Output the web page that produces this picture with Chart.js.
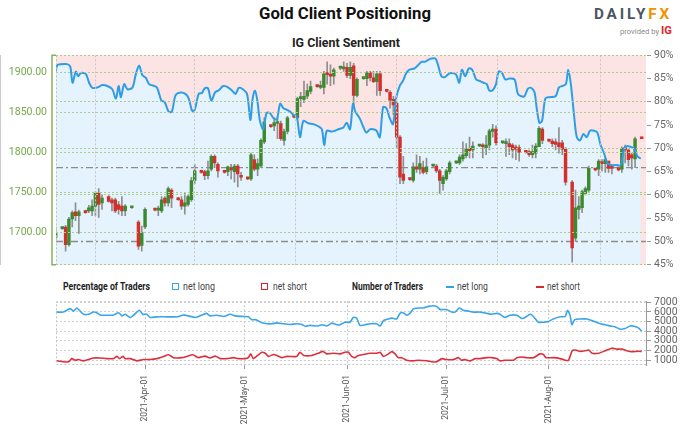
<!DOCTYPE html>
<html>
<head>
<meta charset="utf-8">
<script src="https://cdn.jsdelivr.net/npm/chart.js@4.4.0/dist/chart.umd.min.js"></script>
<style>
  body { margin: 0; width: 680px; height: 424px; background: #fff; position: relative; overflow: hidden;
         font-family: Roboto, 'Liberation Sans', sans-serif; }
  canvas { position: absolute; left: 0; }
  #main { top: 40px; }
  #traders { top: 292px; }
  .t { position: absolute; white-space: nowrap; line-height: 1; transform-origin: 0 0; }
  .box { position: absolute; width: 5px; height: 5px; border-width: 1.6px; border-style: solid; }
  .dash { position: absolute; width: 8px; height: 2px; }
</style>
</head>
<body>
<div class="t" data-w="172" style="left:259px;top:5px;font-weight:bold;font-size:17px;color:#111">Gold Client Positioning</div>
<div class="t" data-w="78" style="left:594px;top:7px;font-weight:bold;font-size:14px;letter-spacing:2.6px;color:#4b5563">DAILY<span style="color:#f39200">FX</span></div>
<div class="t" data-w="52" style="left:620px;top:25px;font-size:7.5px;color:#8a8a8a">provided by <span style="color:#e01f26;font-weight:bold;font-size:11px">IG</span></div>
<div class="t" data-w="108" style="left:292px;top:36px;font-weight:bold;font-size:13px;color:#222">IG Client Sentiment</div>

<div class="t" data-w="87" style="left:63px;top:282px;font-weight:bold;font-size:10px;color:#222">Percentage of Traders</div>
<div class="box" style="left:172px;top:283px;border-color:#33a3e8"></div>
<div class="t" data-w="32" style="left:183px;top:282px;font-size:10px;color:#444">net long</div>
<div class="box" style="left:261px;top:283px;border-color:#d9262e"></div>
<div class="t" data-w="34" style="left:273px;top:282px;font-size:10px;color:#444">net short</div>
<div class="t" data-w="71" style="left:352px;top:282px;font-weight:bold;font-size:10px;color:#222">Number of Traders</div>
<div class="dash" style="left:446px;top:286px;background:#33a3e8"></div>
<div class="t" data-w="31" style="left:457px;top:282px;font-size:10px;color:#444">net long</div>
<div class="dash" style="left:536px;top:286px;background:#d9262e"></div>
<div class="t" data-w="33" style="left:547px;top:282px;font-size:10px;color:#444">net short</div>

<canvas id="main" width="680" height="240"></canvas>
<canvas id="traders" width="680" height="132"></canvas>

<script>
// squeeze the html labels to the narrow width of the original font
document.querySelectorAll(".t[data-w]").forEach(el => {
  const w = el.getBoundingClientRect().width;
  el.style.transform = "scaleX(" + (parseFloat(el.dataset.w) / w).toFixed(3) + ")";
});

// days counted from 2021-03-01 (= day 0)
const monthDays = [31, 61, 92, 122, 153];
const monthLabels = ["2021-Apr-01", "2021-May-01", "2021-Jun-01", "2021-Jul-01", "2021-Aug-01"];
const xMin = 4.1, xMax = 182.3;

const priceTicks = [1700, 1750, 1800, 1850, 1900];
const sentTicks = [45, 50, 55, 60, 65, 70, 75, 80, 85, 90];
const traderTicks = [1000, 2000, 3000, 4000, 5000, 6000, 7000];
const levelPrice = 1781;
const levelSent = 50;

// daily gold candles
const candleDays = [4,6,7,8,9,10,11,13,14,15,16,17,18,20,21,22,23,24,25,27,29,30,31,
  34,35,36,37,38,39,41,42,43,44,45,46,48,49,50,51,52,53,55,56,57,58,59,60,62,63,64,65,66,67,
  69,70,71,72,73,74,76,77,78,79,80,81,83,84,85,86,87,88,90,91,92,93,94,95,97,98,99,100,101,102,
  104,105,106,107,108,109,111,112,113,114,115,116,118,119,120,121,122,123,125,126,127,128,129,130,
  132,133,134,135,136,137,139,140,141,142,143,144,146,147,148,149,150,151,153,154,155,156,157,158,
  160,161,162,163,164,165,167,168,169,170,171,172,174,175,176,177,178,179,181];
const candleOpen = [1694,1705,1707,1685,1717,1726,1721,1727,1727,1727,1733,1749,1737,1745,1741,1741,1735,1733,1727,1731,1713,1684,1707,
  1729,1728,1727,1743,1737,1753,1743,1741,1733,1735,1741,1765,1777,1776,1771,1779,1795,1785,1777,1776,1781,1776,1783,1771,1768,1767,1791,1779,1783,1813,
  1833,1833,1836,1836,1815,1826,1845,1843,1867,1866,1870,1876,1883,1881,1881,1898,1897,1895,1905,1904,1906,1896,1908,1871,1892,1892,1899,1893,1888,1898,
  1877,1875,1866,1861,1819,1773,1767,1765,1782,1779,1781,1776,1783,1783,1777,1761,1767,1776,1787,1787,1792,1796,1805,1803,
  1808,1808,1806,1809,1826,1829,1812,1811,1811,1809,1806,1806,1801,1801,1797,1799,1807,1829,1815,1814,1813,1812,1812,1804,
  1763,1693,1729,1731,1749,1753,1779,1779,1787,1786,1789,1781,1781,1779,1806,1803,1797,1792,1819];
const candleHigh = [1707,1707,1709,1719,1727,1737,1728,1728,1734,1741,1751,1755,1747,1746,1743,1743,1739,1745,1735,1732,1715,1708,1731,
  1730,1733,1745,1745,1757,1755,1744,1745,1749,1747,1769,1785,1778,1778,1789,1797,1797,1787,1778,1783,1785,1785,1785,1775,1769,1799,1797,1792,1817,1843,
  1834,1843,1843,1839,1829,1845,1846,1869,1875,1889,1885,1889,1884,1889,1901,1913,1909,1905,1906,1913,1911,1913,1911,1893,1894,1901,1901,1901,1901,1901,
  1878,1877,1870,1863,1821,1795,1768,1787,1797,1795,1789,1793,1784,1785,1779,1771,1779,1789,1788,1797,1813,1811,1819,1813,
  1809,1811,1821,1829,1835,1833,1813,1817,1817,1811,1809,1809,1802,1803,1809,1811,1832,1831,1816,1817,1817,1831,1815,1806,
  1765,1753,1745,1753,1757,1783,1780,1791,1791,1793,1789,1785,1782,1807,1809,1805,1799,1819,1819];
const candleLow = [1689,1704,1677,1683,1707,1715,1699,1724,1725,1721,1721,1719,1729,1738,1727,1725,1723,1721,1721,1730,1679,1677,1705,
  1727,1721,1725,1733,1733,1731,1740,1729,1723,1733,1739,1761,1774,1766,1767,1777,1781,1769,1774,1771,1767,1763,1757,1765,1766,1765,1777,1771,1781,1811,
  1831,1827,1817,1815,1809,1823,1843,1841,1857,1862,1867,1873,1881,1879,1873,1885,1883,1885,1903,1901,1893,1892,1855,1869,1891,1883,1889,1887,1871,1871,
  1875,1855,1847,1805,1761,1761,1765,1763,1775,1773,1773,1773,1782,1775,1749,1753,1765,1773,1786,1785,1789,1793,1793,1793,
  1807,1793,1797,1803,1819,1809,1811,1795,1797,1793,1791,1789,1799,1795,1793,1793,1807,1811,1813,1807,1803,1799,1797,1759,
  1663,1689,1717,1725,1747,1751,1777,1771,1777,1775,1775,1773,1777,1775,1787,1783,1779,1781,1817];
const candleClose = [1699,1706,1685,1717,1725,1721,1726,1725,1731,1733,1749,1735,1743,1739,1737,1727,1729,1727,1733,1731,1683,1700,1729,
  1728,1730,1741,1737,1755,1743,1741,1733,1737,1745,1765,1777,1775,1771,1777,1795,1787,1777,1775,1782,1778,1783,1773,1769,1767,1797,1779,1786,1815,1838,
  1832,1837,1838,1817,1826,1843,1844,1867,1869,1870,1877,1882,1882,1883,1898,1897,1895,1903,1905,1906,1896,1906,1871,1891,1893,1899,1893,1888,1898,1877,
  1876,1865,1859,1819,1769,1765,1766,1782,1779,1786,1775,1782,1783,1777,1765,1769,1777,1787,1787,1794,1797,1804,1802,1808,
  1808,1807,1809,1827,1829,1812,1812,1813,1807,1803,1804,1800,1800,1797,1801,1808,1830,1815,1814,1811,1810,1807,1804,1763,
  1681,1731,1733,1751,1755,1780,1778,1789,1786,1791,1780,1780,1778,1805,1803,1791,1793,1817,1817];

// IG client sentiment, % of traders net long
const sentDays = [4.0,4.5,5.5,7.5,8.4,9.1,10.1,10.8,11.6,13.1,14.1,15.1,16.6,18.1,19.6,21.1,22.2,23.0,23.7,24.7,25.7,27.2,28.2,29.2,30.2,31.2,32.2,33.4,
  34.6,35.9,36.9,38.1,39.1,40.2,41.7,43.2,44.2,45.2,46.0,47.2,48.2,49.0,50.0,51.0,52.2,53.3,54.6,55.8,57.3,58.3,59.3,60.3,61.8,62.8,
  63.5,64.2,64.9,65.7,66.7,67.7,68.7,69.8,70.8,71.8,72.8,73.8,74.8,75.8,76.8,77.8,78.8,80.3,81.8,83.4,84.4,85.1,85.9,87.4,88.4,89.4,90.9,91.9,92.9,
  93.8,94.5,95.8,96.8,97.8,98.9,99.9,100.9,101.9,102.9,103.9,104.9,105.9,106.9,107.9,108.9,109.9,110.9,112.4,113.5,114.5,115.5,116.5,117.5,118.7,119.5,120.5,121.5,122.5,
  123.4,124.9,125.9,126.7,127.7,128.8,129.8,131.0,132.0,133.2,134.2,135.0,136.0,137.0,137.8,138.8,139.8,141.0,142.6,143.6,144.6,145.6,146.6,147.6,148.6,149.3,150.1,150.9,151.9,
  153.0,155.0,156.0,157.0,158.1,158.8,159.6,160.6,161.4,162.4,163.4,164.4,165.4,166.6,167.6,168.6,169.6,170.6,171.6,173.2,174.7,175.7,176.7,177.7,178.7,179.7,180.7];
const sentPct = [86.5,87.9,88.1,88.1,87.6,84.1,86.5,85.5,86.2,86.0,84.1,83.0,83.1,83.6,83.4,82.7,80.7,83.4,81.0,83.8,82.7,83.1,85.9,87.8,85.7,85.2,83.8,83.5,
  83.1,80.3,80.0,77.9,77.9,81.4,82.0,81.7,80.7,78.1,78.3,81.7,81.9,82.9,82.9,80.3,82.1,82.5,83.4,83.2,82.4,81.7,83.0,82.8,81.7,76.1,
  80.7,82.4,80.3,75.9,74.1,77.6,77.6,76.5,76.2,79.6,78.6,78.3,77.9,77.2,76.9,72.4,75.9,75.4,75.2,74.7,74.1,70.7,73.8,73.6,73.8,74.1,74.5,75.5,74.1,
  79.6,77.9,76.5,74.8,73.4,74.1,74.1,73.8,72.4,78.9,78.6,76.5,75.2,81.0,83.4,84.5,86.2,86.9,87.2,87.9,88.6,88.6,89.0,89.3,89.3,87.9,85.5,85.3,85.9,
  86.2,85.9,84.1,86.9,85.5,87.2,86.9,84.8,84.5,84.1,83.8,82.4,82.5,83.8,86.5,86.2,84.8,85.0,84.8,81.7,81.2,81.2,82.8,83.0,82.1,78.6,75.5,75.9,80.7,
  81.0,81.2,83.1,83.4,83.8,86.9,83.8,76.9,72.4,71.7,73.1,72.4,73.8,73.8,73.4,70.7,69.0,66.9,66.4,66.4,66.4,70.0,70.5,70.3,70.0,68.3,67.8];

// number of traders
const longDays = [4.3,6.3,7.4,8.4,9.4,10.4,11.4,12.4,13.9,15.4,16.4,17.4,19.4,21.4,23.0,24.0,25.0,26.5,27.5,29.3,30.3,31.5,32.5,34.5,37.6,40.6,42.6,44.1,46.1,47.6,
  49.6,50.6,52.7,54.7,56.7,58.2,60.7,62.2,63.2,64.5,66.3,67.8,69.3,70.8,72.8,74.8,76.8,78.4,79.4,80.9,82.9,84.4,85.9,87.4,88.9,89.9,91.4,92.9,93.9,94.9,
  95.9,97.4,99,101,102,103,104.5,105.5,107,108,109,110,111,112,113.6,115.1,116.6,118.1,119.1,120.1,122.1,123.6,124.6,125.9,127,128.7,130.2,132.2,134.2,135.7,
  137.2,138.2,139.7,141.2,143.3,144.8,145.8,147.3,148.3,149.8,151.3,152.8,154.3,156.4,157.9,158.6,159.4,159.9,160.8,162.5,164.5,166,167.5,168.5,170,171.5,173,174.5,176,177.5,178.8,180,181];
const longCount = [5983,5983,6180,6344,6082,6410,6082,5754,5754,5983,5918,5688,5655,5688,5918,5590,5754,5426,5655,6180,5754,5754,5426,5491,5491,5491,5688,5590,5426,5590,
  5852,5590,5655,5524,5754,5590,5524,5491,5196,5196,4868,4770,4770,4868,4770,4704,4770,4704,4507,4606,4540,4672,4540,4835,4672,4671,4934,4934,5426,5360,
  4606,4671,4770,4770,4540,5098,5262,5360,5262,5852,5918,5655,5852,6311,6410,6410,6574,6639,6574,6246,6246,5983,5983,6410,6180,6082,5983,5983,5852,5754,
  5852,5754,5426,5655,5655,5328,5426,5754,5524,4934,4934,5000,5262,5491,5524,6180,5590,4671,5196,5262,5262,5098,4900,4770,4671,4540,4442,4212,4278,4540,4507,4343,4015];
const shortDays = [4.3,6.3,7.9,8.9,9.9,10.9,12.4,13.9,15.4,17.4,19.4,21.4,22.5,23.3,24.3,25.0,26.5,28.5,30.5,32.5,34.5,36.6,38.1,39.6,42.1,43.6,45.4,47.1,49.1,50.6,
  52.2,53.7,55.7,57.7,59.2,61.2,62.2,62.9,63.7,65.0,66.3,67.3,68.3,69.8,70.8,72.3,73.8,76.8,77.8,78.9,81.4,83.4,84.7,85.9,87.9,89.9,91.4,92.4,93.4,94.4,
  95.4,96.9,99,101,102,103,104.5,105.5,106.5,107.5,108.5,110,112,113.6,116.1,117.6,119.1,120.6,122.1,124.1,125.6,126.6,127.6,129.2,130.7,132.2,134.2,135.7,137.2,138.2,
  139.7,142.3,143.3,144.8,146.3,148.3,150.3,151.3,152.1,154.3,156.4,157.9,158.9,160,161,162.5,164,165,166,168,170,172,173.5,175,176.5,178,179.5,181];
const shortCount = [932,834,834,1162,998,1063,932,1063,1227,1227,1162,1162,1391,1162,1391,1162,1162,932,1063,1063,1162,1391,1555,1260,1260,1391,1555,1260,1424,1227,
  1424,1162,1162,1260,1162,1162,1260,1653,1162,1490,1817,1719,1391,1588,1490,1260,1391,1391,1817,1490,1490,1719,1916,1653,1719,1650,1818,1818,1391,1260,
  1490,1588,1719,1719,1818,1391,1653,1883,1653,1260,1260,998,932,998,932,834,834,1162,1063,1063,1260,998,1063,932,1162,1162,1260,1260,1162,932,
  998,998,1260,1325,1260,1260,1653,1588,1260,1260,1162,998,998,1982,2047,1916,1982,2047,1719,1719,1982,2244,2146,2146,1982,1883,1916,1916];

Chart.defaults.font.family = "Roboto, 'Liberation Sans', sans-serif";
Chart.defaults.animation = false;

const pts = (days, vals) => days.map((d, i) => ({ x: d, y: vals[i] }));
const GREEN = "#3c8a2e", RED = "#d2302c";

const monthAxis = {
  type: "linear", min: xMin, max: xMax, offset: false,
  afterBuildTicks: s => { s.ticks = monthDays.map(v => ({ value: v })); }
};

const mainBg = {
  id: "mainBg",
  beforeDraw(chart) {
    const { ctx, chartArea: a } = chart;
    ctx.save();
    ctx.fillStyle = "#fce4e4";
    ctx.fillRect(a.left, a.top, a.right - a.left, a.bottom - a.top);
    ctx.restore();
  },
  afterDraw(chart) {
    const { ctx, chartArea: a } = chart;
    ctx.save();
    ctx.setLineDash([2, 2]);
    ctx.strokeStyle = "#b9c9a6";
    ctx.beginPath();
    ctx.moveTo(a.left + 0.5, a.top);
    ctx.lineTo(a.left + 0.5, a.bottom);
    ctx.stroke();
    ctx.setLineDash([]);
    ctx.strokeStyle = "#86b35a";
    ctx.lineWidth = 1.5;
    ctx.beginPath();
    ctx.moveTo(a.left, a.top);
    ctx.lineTo(a.left - 4, a.top);
    ctx.lineTo(a.left - 4, a.bottom);
    ctx.lineTo(a.left, a.bottom);
    ctx.stroke();
    ctx.restore();
  }
};

new Chart(document.getElementById("main"), {
  type: "bar",
  data: {
    datasets: [
      { type: "line", yAxisID: "ySent", data: pts(sentDays, sentPct), borderWidth: 0, pointRadius: 0,
        tension: 0.3, fill: "start", backgroundColor: "#e4f3fd", order: 6 },
      { type: "line", yAxisID: "yPrice", data: [{ x: xMin, y: levelPrice }, { x: xMax, y: levelPrice }],
        borderColor: "#8c8c8c", borderWidth: 1.4, borderDash: [7, 3, 2, 3], pointRadius: 0, order: 5 },
      { type: "line", yAxisID: "ySent", data: [{ x: xMin, y: levelSent }, { x: xMax, y: levelSent }],
        borderColor: "#8c8c8c", borderWidth: 1.4, borderDash: [7, 3, 2, 3], pointRadius: 0, order: 5 },
      { yAxisID: "yPrice", data: candleDays.map((d, i) => ({ x: d, y: [candleLow[i], candleHigh[i]] })),
        backgroundColor: "#8e8e8e", barThickness: 1, grouped: false, order: 3 },
      { yAxisID: "yPrice", data: candleDays.map((d, i) => ({ x: d, y: [candleOpen[i], candleClose[i]] })),
        backgroundColor: candleDays.map((d, i) => candleClose[i] >= candleOpen[i] ? GREEN : RED),
        barThickness: 2.8, minBarLength: 2, grouped: false, order: 2 },
      { type: "line", yAxisID: "ySent", data: pts(sentDays, sentPct), borderColor: "#2d9de6", borderWidth: 2,
        pointRadius: 0, tension: 0.3, fill: false, order: 1 }
    ]
  },
  options: {
    responsive: false,
    layout: { padding: { top: 10, bottom: 12, left: 0, right: 0 } },
    plugins: { legend: { display: false }, tooltip: { enabled: false } },
    scales: {
      x: Object.assign({}, monthAxis, {
        ticks: { display: false },
        grid: { color: "#c6c6c6", drawTicks: false, z: 1 },
        border: { display: false, dash: [2, 2] },
        afterFit: s => { s.height = 0; }
      }),
      yPrice: {
        position: "left", min: 1660, max: 1921,
        afterBuildTicks: s => { s.ticks = priceTicks.map(v => ({ value: v })); },
        ticks: { color: "#74a848", font: { size: 10.5 }, padding: 9, callback: v => v.toFixed(2) },
        grid: { color: "#aecb8a", drawTicks: false, z: 1 },
        border: { display: false, dash: [2, 2] },
        afterFit: s => { s.width = 56; }
      },
      ySent: {
        position: "right", min: 45, max: 90,
        afterBuildTicks: s => { s.ticks = sentTicks.map(v => ({ value: v })); },
        ticks: { color: "#666", font: { size: 10.5 }, padding: 3, autoSkip: false, callback: v => v + "%" },
        grid: { color: c => (c.tick && c.tick.value % 10 === 0 && c.tick.value !== 50) || (c.tick && c.tick.value === 45) ? "#aecb8a" : "rgba(0,0,0,0)",
                tickColor: "#9a9a9a", tickLength: 5, z: 1 },
        border: { display: true, color: "#9a9a9a", dash: [2, 2] },
        afterFit: s => { s.width = 34; }
      }
    }
  },
  plugins: [mainBg]
});

const tradersFrame = {
  id: "tradersFrame",
  afterDraw(chart) {
    const { ctx, chartArea: a } = chart;
    ctx.save();
    ctx.setLineDash([2, 2]);
    ctx.strokeStyle = "#c4c4c4";
    ctx.beginPath();
    ctx.moveTo(a.right, a.top + 0.5); ctx.lineTo(a.left + 0.5, a.top + 0.5);
    ctx.lineTo(a.left + 0.5, a.bottom - 0.5); ctx.lineTo(a.right, a.bottom - 0.5);
    ctx.stroke();
    ctx.restore();
  }
};

new Chart(document.getElementById("traders"), {
  type: "line",
  data: {
    datasets: [
      { data: pts(longDays, longCount), borderColor: "#3aa5ea", borderWidth: 1.6, pointRadius: 0, tension: 0.2 },
      { data: pts(shortDays, shortCount), borderColor: "#de2f3c", borderWidth: 1.6, pointRadius: 0, tension: 0.2 }
    ]
  },
  options: {
    responsive: false,
    layout: { padding: { top: 6, left: 56, right: 0, bottom: 0 } },
    plugins: { legend: { display: false }, tooltip: { enabled: false } },
    scales: {
      x: Object.assign({}, monthAxis, {
        ticks: { color: "#555", font: { size: 8.5 }, padding: 6, minRotation: 90, maxRotation: 90, autoSkip: false,
                 callback: v => { const i = monthDays.indexOf(v); return i >= 0 ? monthLabels[i] : ""; } },
        grid: { color: "#c6c6c6", tickColor: "#9a9a9a", tickLength: 4 },
        border: { display: false, dash: [2, 2] },
        afterFit: s => { s.height = 59; }
      }),
      y: {
        position: "right", min: 500, max: 7100,
        afterBuildTicks: s => { s.ticks = traderTicks.map(v => ({ value: v })); },
        ticks: { color: "#666", font: { size: 10.5 }, padding: 3, autoSkip: false, callback: v => String(v) },
        grid: { color: "#cfcfcf", tickColor: "#9a9a9a", tickLength: 5 },
        border: { display: true, color: "#9a9a9a", dash: [2, 2] },
        afterFit: s => { s.width = 34; }
      }
    }
  },
  plugins: [tradersFrame]
});
</script>
</body>
</html>
